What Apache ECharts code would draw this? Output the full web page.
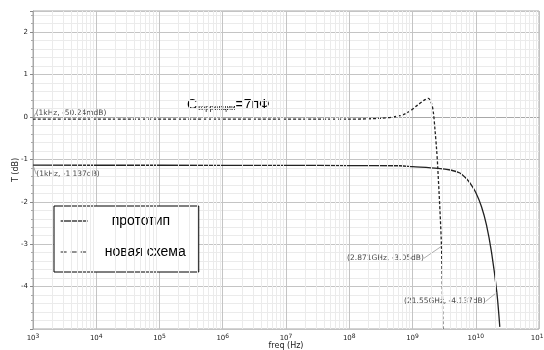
<!DOCTYPE html>
<html>
<head>
<meta charset="utf-8">
<script src="https://cdn.jsdelivr.net/npm/echarts@6/dist/echarts.min.js"></script>
<style>
  html, body { margin: 0; padding: 0; background: #fff; }
  #chart { width: 544px; height: 350px; }
</style>
</head>
<body>
<div id="chart"></div>
<script>
// прототип (сплошная)
const protoFreq = [1e3, 1e5, 1e7, 1e8, 6.3e8, 1e9, 2.51e9, 3.98e9, 5.62e9, 7.08e9, 8.13e9, 1e10, 1.23e10, 1.48e10, 1.78e10, 2.155e10, 2.4e10];
const protoDb   = [-1.137, -1.138, -1.14, -1.145, -1.15, -1.17, -1.21, -1.25, -1.32, -1.45, -1.56, -1.78, -2.11, -2.55, -3.2, -4.137, -4.95];

// новая схема (пунктир)
const newFreq = [1e3, 1e6, 1e8, 3.16e8, 6.31e8, 8.91e8, 1.2e9, 1.58e9, 1.78e9, 2.0e9, 2.14e9, 2.27e9, 2.4e9, 2.51e9, 2.871e9, 3.02e9];
const newDb   = [-0.05024, -0.05, -0.05, -0.03, 0.03, 0.13, 0.28, 0.41, 0.44, 0.32, 0.1, -0.31, -0.75, -1.2, -3.05, -5.0];

// подписи точек
const annoFreq = [1e3, 1e3, 2.871e9, 2.155e10];
const annoDb   = [-0.05024, -1.137, -3.05, -4.137];
const annoText = ['(1kHz, -50.24mdB)', '(1kHz, -1.137dB)', '(2.871GHz, -3.05dB)', '(21.55GHz, -4.137dB)'];
const annoShift = [[38, -6], [35, 9], [-56, 12], [-52, 9]];

const decades = [3, 4, 5, 6, 7, 8, 9, 10];
const minorX = [];
decades.forEach(d => {
  for (let k = 2; k <= 9; k++) minorX.push({ xAxis: k * Math.pow(10, d) });
});

const chart = echarts.init(document.getElementById('chart'));

const option = {
  animation: false,
  grid: {
    left: 33, top: 11, right: 5, bottom: 21,
    outerBoundsMode: 'none', containLabel: false,
    show: true, borderColor: '#a8a8a8', borderWidth: 1
  },
  xAxis: {
    type: 'log',
    logBase: 10,
    min: 1e3,
    max: 1e11,
    name: 'freq (Hz)',
    nameLocation: 'middle',
    nameGap: 13,
    nameMoveOverlap: false,
    nameTextStyle: { fontSize: 8, color: '#222', fontFamily: 'DejaVu Sans' },
    axisLine: { lineStyle: { color: '#a8a8a8' } },
    axisTick: { show: false },
    axisLabel: {
      margin: 4,
      color: '#222',
      fontFamily: 'DejaVu Sans',
      fontSize: 7,
      formatter: v => '10{sup|' + Math.round(Math.log10(v)) + '}',
      rich: { sup: { fontSize: 6, fontFamily: 'DejaVu Sans', color: '#222', verticalAlign: 'top', padding: [0, 0, 4, 0] } }
    },
    splitLine: { show: true, lineStyle: { color: '#c4c4c4', width: 1 } }
  },
  yAxis: {
    type: 'value',
    min: -5,
    max: 2.5,
    interval: 1,
    name: 'T (dB)',
    nameLocation: 'middle',
    nameGap: 13,
    nameMoveOverlap: false,
    nameTextStyle: { fontSize: 8, color: '#222', fontFamily: 'DejaVu Sans' },
    axisLine: { show: true, lineStyle: { color: '#a8a8a8' } },
    axisTick: { show: true, length: 3, lineStyle: { color: '#888' } },
    minorTick: { show: true, splitNumber: 5, length: 2, lineStyle: { color: '#aaa' } },
    minorSplitLine: { show: true, lineStyle: { color: '#ebebeb' } },
    splitLine: { show: true, lineStyle: { color: '#c4c4c4' } },
    axisLabel: {
      margin: 5,
      color: '#222',
      fontFamily: 'DejaVu Sans',
      fontSize: 7,
      formatter: v => (v === -5 || v === 2.5) ? '' : String(v)
    }
  },
  legend: {
    left: 54,
    top: 206,
    orient: 'vertical',
    backgroundColor: '#fff',
    borderColor: '#000',
    borderWidth: 1,
    borderRadius: 0,
    padding: [8, 13, 13, 6],
    itemGap: 17,
    itemWidth: 27,
    itemHeight: 14,
    itemStyle: { color: 'rgba(0,0,0,0)', borderWidth: 0, opacity: 0 },
    textStyle: { fontSize: 14, color: '#000', fontFamily: 'Liberation Sans' },
    data: [
      { name: 'прототип', textStyle: { padding: [0, 0, 0, 19] }, lineStyle: { type: 'solid', width: 1.3 } },
      { name: 'новая схема', textStyle: { padding: [0, 0, 0, 12] }, lineStyle: { type: [6, 4], width: 1 } }
    ]
  },
  graphic: [{
    type: 'text',
    left: 187,
    top: 98,
    style: {
      text: '{c|C}{s|коррекции}{c|=7пФ}',
      rich: {
        c: { fontSize: 14, fontFamily: 'Liberation Sans', fill: '#000', verticalAlign: 'bottom' },
        s: { fontSize: 8, fontFamily: 'Liberation Sans', fill: '#000', verticalAlign: 'bottom' }
      }
    }
  }],
  series: [
    {
      name: 'minor-grid',
      type: 'line',
      data: [],
      z: 1,
      silent: true,
      markLine: {
        silent: true,
        symbol: 'none',
        label: { show: false },
        lineStyle: { color: '#ebebeb', type: 'solid', width: 1 },
        data: minorX
      }
    },
    {
      name: 'прототип',
      type: 'line',
      z: 3,
      showSymbol: false,
      symbol: 'none',
      smooth: 0.3,
      data: protoFreq.map((f, i) => [f, protoDb[i]]),
      lineStyle: { color: '#222', width: 1.3, type: 'solid' },
      itemStyle: { color: '#222' }
    },
    {
      name: 'новая схема',
      type: 'line',
      z: 3,
      showSymbol: false,
      symbol: 'none',
      smooth: 0.3,
      data: newFreq.map((f, i) => [f, newDb[i]]),
      lineStyle: { color: '#222', width: 1.3, type: [3, 2] },
      itemStyle: { color: '#222' }
    },
    {
      name: 'anno',
      type: 'scatter',
      z: 4,
      symbolSize: 1,
      itemStyle: { color: 'rgba(0,0,0,0)' },
      silent: true,
      data: annoFreq.map((f, i) => [f, annoDb[i]]),
      label: {
        show: true,
        position: 'inside',
        fontSize: 7.5,
        fontFamily: 'DejaVu Sans',
        color: '#111',
        formatter: p => annoText[p.dataIndex]
      },
      labelLine: { show: true, length2: 0, lineStyle: { color: '#999', width: 0.8 } },
      labelLayout: p => ({ dx: annoShift[p.dataIndex][0], dy: annoShift[p.dataIndex][1] })
    }
  ]
};

chart.setOption(option);
</script>
</body>
</html>
